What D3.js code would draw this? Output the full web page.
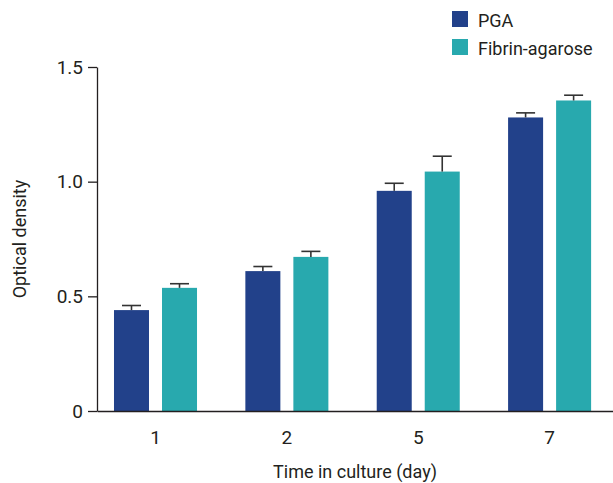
<!DOCTYPE html>
<html>
<head>
<meta charset="utf-8">
<script src="https://cdn.jsdelivr.net/npm/d3@7"></script>
<style>
  body { margin: 0; background: #fff; }
  svg text { font-family: Roboto, 'Open Sans', sans-serif; fill: #231f20; }
</style>
</head>
<body>
<svg id="chart" width="613" height="483"></svg>
<script>
'use strict'

// values
const days = ['1', '2', '5', '7']
const series = ['PGA', 'Fibrin-agarose']
const pgaMean = [0.44, 0.61, 0.96, 1.28]
const pgaErr = [0.02, 0.02, 0.033, 0.02]
const fibrinMean = [0.537, 0.672, 1.044, 1.354]
const fibrinErr = [0.018, 0.024, 0.067, 0.023]
const yTicks = [0, 0.5, 1.0, 1.5]
const yTickLabels = ['0', '0.5', '1.0', '1.5']
const colors = ['#22418a', '#28a9ae']

let rows = []
days.forEach(function (d, i) {
  rows.push({day: d, key: series[0], value: pgaMean[i], err: pgaErr[i]})
  rows.push({day: d, key: series[1], value: fibrinMean[i], err: fibrinErr[i]})
})

let svg = d3.select('#chart')

let y = d3.scaleLinear()
  .domain([0, 1.5])
  .range([411, 67])

let x = d3.scaleBand()
  .domain(days)
  .range([97, 613])
  .paddingInner(0.368)
  .paddingOuter(0.148)
  .align(0.437)

let x1 = d3.scaleBand()
  .domain(series)
  .range([0, x.bandwidth()])
  .paddingInner(0.2708)

let color = d3.scaleOrdinal()
  .domain(series)
  .range(colors)

// bars
svg.append('g')
  .selectAll('rect')
  .data(rows)
  .enter()
  .append('rect')
  .attr('x', function (d) { return x(d.day) + x1(d.key) })
  .attr('y', function (d) { return y(d.value) })
  .attr('width', x1.bandwidth())
  .attr('height', function (d) { return y(0) - y(d.value) + 1 })
  .attr('fill', function (d) { return color(d.key) })

// error bars
let err = svg.append('g')
  .attr('stroke', '#333')
  .attr('stroke-width', 1.6)
  .selectAll('g')
  .data(rows)
  .enter()
  .append('g')
  .attr('transform', function (d) { return 'translate(' + (x(d.day) + x1(d.key) + x1.bandwidth() / 2) + ',0)' })
err.append('line')
  .attr('x1', 0).attr('x2', 0)
  .attr('y1', function (d) { return y(d.value) })
  .attr('y2', function (d) { return y(d.value + d.err) })
err.append('line')
  .attr('x1', -9.5).attr('x2', 9.5)
  .attr('y1', function (d) { return y(d.value + d.err) })
  .attr('y2', function (d) { return y(d.value + d.err) })

// axes
let yAxis = d3.axisLeft(y)
  .tickValues(yTicks)
  .tickFormat(function (d, i) { return yTickLabels[i] })
  .tickSize(9)
  .tickSizeOuter(0)
  .tickPadding(5)
let gy = svg.append('g')
  .attr('transform', 'translate(97,0)')
  .call(yAxis)
gy.selectAll('text').style('font-size', '19px')

let xAxis = d3.axisBottom(x)
  .tickSize(0)
  .tickSizeOuter(0)
  .tickPadding(20)
let gx = svg.append('g')
  .attr('transform', 'translate(0,411)')
  .call(xAxis)
gx.selectAll('text').style('font-size', '19px')

svg.selectAll('.domain, .tick line')
  .attr('stroke', '#231f20')
  .attr('stroke-width', 1.3)
svg.selectAll('.tick text').attr('fill', '#231f20')

// axis titles
svg.append('text')
  .attr('x', 355)
  .attr('y', 478)
  .attr('text-anchor', 'middle')
  .style('font-size', '18px')
  .text('Time in culture (day)')

svg.append('text')
  .attr('transform', 'translate(26,239) rotate(-90)')
  .attr('text-anchor', 'middle')
  .style('font-size', '18px')
  .text('Optical density')

// legend
let legend = svg.append('g')
  .selectAll('g')
  .data(series)
  .enter()
  .append('g')
  .attr('transform', function (d, i) { return 'translate(452,' + (11 + i * 28) + ')' })
legend.append('rect')
  .attr('width', 16)
  .attr('height', 16)
  .attr('fill', function (d) { return color(d) })
legend.append('text')
  .attr('x', 26)
  .attr('y', 15.5)
  .style('font-size', '18px')
  .text(function (d) { return d })
</script>
</body>
</html>
